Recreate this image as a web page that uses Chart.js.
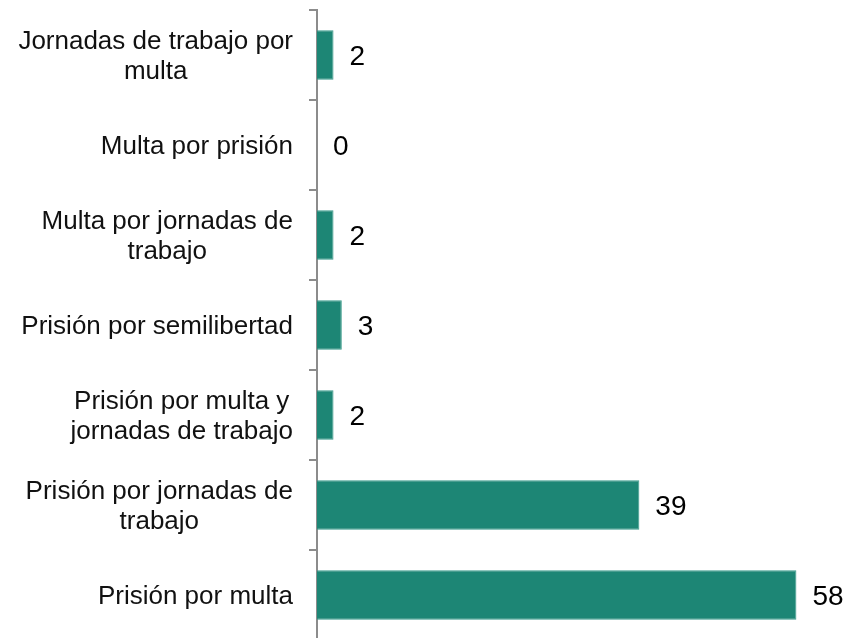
<!DOCTYPE html>
<html>
<head>
<meta charset="utf-8">
<script src="https://cdn.jsdelivr.net/npm/chart.js@4/dist/chart.umd.min.js"></script>
<style>
  html, body { margin: 0; padding: 0; background: #fff; overflow: hidden; }
  #wrap { width: 848px; height: 640px; }
</style>
</head>
<body>
<div id="wrap"><canvas id="chart"></canvas></div>
<script>
// categorias y valores
const categorias = [
  ["Jornadas de trabajo por", "multa"],
  ["Multa por prisión"],
  ["Multa por jornadas de", "trabajo"],
  ["Prisión por semilibertad"],
  ["Prisión por multa y", "jornadas de trabajo"],
  ["Prisión por jornadas de", "trabajo"],
  ["Prisión por multa"]
];
const valores = [2, 0, 2, 3, 2, 39, 58];

const FONT = "'Liberation Sans', Arial, Helvetica, sans-serif";
const AXIS_X = 317;

// etiquetas de categoria, centradas por linea y alineadas a la derecha
const etiquetasPlugin = {
  id: "etiquetas",
  afterDraw(chart) {
    const ctx = chart.ctx;
    const y = chart.scales.y;
    ctx.save();
    ctx.font = "26px " + FONT;
    ctx.fillStyle = "#111";
    ctx.textAlign = "center";
    ctx.textBaseline = "middle";
    const lh = 30;
    categorias.forEach((lines, i) => {
      const widest = Math.max(...lines.map((l) => ctx.measureText(l).width));
      const cx = AXIS_X - 24 - widest / 2;
      const cy = y.getPixelForTick(i) + 2;
      lines.forEach((l, j) => {
        ctx.fillText(l, cx, cy + (j - (lines.length - 1) / 2) * lh);
      });
    });
    ctx.restore();
  }
};

// valor al final de cada barra
const valoresPlugin = {
  id: "valores",
  afterDatasetsDraw(chart) {
    const ctx = chart.ctx;
    const meta = chart.getDatasetMeta(0);
    ctx.save();
    ctx.font = "28px " + FONT;
    ctx.fillStyle = "#000";
    ctx.textAlign = "left";
    ctx.textBaseline = "middle";
    meta.data.forEach((bar, i) => {
      ctx.fillText(String(valores[i]), bar.x + 16, bar.y + 2);
    });
    ctx.restore();
  }
};

new Chart(document.getElementById("chart"), {
  type: "bar",
  data: {
    labels: categorias,
    datasets: [
      {
        data: valores,
        backgroundColor: "#1d8675",
        borderColor: "#3a9a8a",
        borderWidth: 1,
        barPercentage: 0.55,
        categoryPercentage: 1
      }
    ]
  },
  options: {
    indexAxis: "y",
    responsive: true,
    maintainAspectRatio: false,
    animation: false,
    layout: { padding: { top: 10, right: 2, bottom: 0, left: 0 } },
    plugins: {
      legend: { display: false },
      tooltip: { enabled: false }
    },
    scales: {
      x: {
        display: false,
        min: 0,
        max: 64
      },
      y: {
        afterFit(scale) {
          scale.width = AXIS_X;
        },
        grid: {
          offset: true,
          drawOnChartArea: false,
          drawTicks: true,
          tickLength: 8,
          color: "#8c8c8c",
          lineWidth: 2
        },
        border: { display: true, color: "#8c8c8c", width: 2 },
        ticks: { display: false }
      }
    }
  },
  plugins: [etiquetasPlugin, valoresPlugin]
});
</script>
</body>
</html>
